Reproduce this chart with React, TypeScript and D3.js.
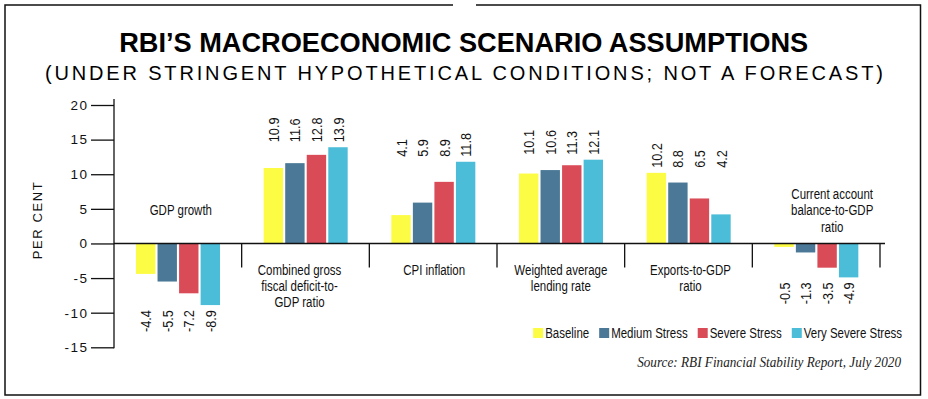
import React, { useRef, useEffect } from 'react';
import * as d3 from 'd3';

// categories (line breaks as in the source graphic)
const categoryLines: string[][] = [
  ['GDP growth'],
  ['Combined gross', 'fiscal deficit-to-', 'GDP ratio'],
  ['CPI inflation'],
  ['Weighted average', 'lending rate'],
  ['Exports-to-GDP', 'ratio'],
  ['Current account', 'balance-to-GDP', 'ratio'],
];
const categories = categoryLines.map((l) => l.join(' '));

const series = ['Baseline', 'Medium Stress', 'Severe Stress', 'Very Severe Stress'];
const seriesColors = ['#fcfc45', '#4a7896', '#d94b57', '#4bbdd8'];

const baseline = [-4.4, 10.9, 4.1, 10.1, 10.2, -0.5];
const mediumStress = [-5.5, 11.6, 5.9, 10.6, 8.8, -1.3];
const severeStress = [-7.2, 12.8, 8.9, 11.3, 6.5, -3.5];
const verySevereStress = [-8.9, 13.9, 11.8, 12.1, 4.2, -4.9];

const yTicks = [20, 15, 10, 5, 0, -5, -10, -15];

const SANS = '"Liberation Sans", Arial, sans-serif';
// no narrow face installed, so squeeze the regular one horizontally
const NARROW = 0.82;

const W = 928;
const H = 399;

const App: React.FC = () => {
  const svgRef = useRef<SVGSVGElement>(null);

  useEffect(() => {
    if (!svgRef.current) return;
    const root = d3.select(svgRef.current);
    root.selectAll('*').remove();

    const values = [baseline, mediumStress, severeStress, verySevereStress];

    const x0 = d3.scaleBand<string>().domain(categories).range([114, 880]).padding(0);
    const x1 = d3.scaleBand<string>().domain(series).range([22, 106]).paddingInner(0.1);
    const y = d3.scaleLinear().domain([-15, 20]).range([347.3, 105]);
    const y0 = y(0);

    // frame with gap in the top edge
    root
      .append('path')
      .attr('d', 'M453,5H5V395H920.5V5H476')
      .attr('fill', 'none')
      .attr('stroke', '#111')
      .attr('stroke-width', 1.5);

    // title
    root
      .append('text')
      .attr('x', 463.7)
      .attr('y', 51.5)
      .attr('text-anchor', 'middle')
      .attr('textLength', 689)
      .attr('lengthAdjust', 'spacingAndGlyphs')
      .style('font-family', SANS)
      .style('font-weight', 'bold')
      .style('font-size', '27px')
      .style('fill', '#000')
      .text('RBI\u2019S MACROECONOMIC SCENARIO ASSUMPTIONS');

    root
      .append('text')
      .attr('x', 463.9)
      .attr('y', 80)
      .attr('text-anchor', 'middle')
      .attr('textLength', 838)
      .attr('lengthAdjust', 'spacing')
      .style('font-family', SANS)
      .style('font-size', '20px')
      .style('fill', '#000')
      .text('(UNDER STRINGENT HYPOTHETICAL CONDITIONS; NOT A FORECAST)');

    // y axis
    const yAxis = root
      .append('g')
      .attr('transform', 'translate(114,0)')
      .call(d3.axisLeft(y).tickValues(yTicks).tickSize(23).tickPadding(2.5).tickFormat((d) => String(d)));
    yAxis.select('.domain').remove();
    yAxis.selectAll('.tick line').attr('stroke', '#111').attr('stroke-width', 1.3);
    yAxis
      .selectAll('.tick text')
      .style('font-family', SANS)
      .style('font-size', '13.5px')
      .style('letter-spacing', '1.5px')
      .style('fill', '#111');

    root
      .append('line')
      .attr('x1', 114)
      .attr('x2', 114)
      .attr('y1', y(20) - 6)
      .attr('y2', y(-15) + 1)
      .attr('stroke', '#111')
      .attr('stroke-width', 1.3);

    root
      .append('text')
      .attr('transform', 'translate(42,220) rotate(-90)')
      .attr('text-anchor', 'middle')
      .style('font-family', SANS)
      .style('font-size', '13px')
      .style('letter-spacing', '1.6px')
      .style('fill', '#111')
      .text('PER CENT');

    // bars
    const groups = root
      .append('g')
      .selectAll('g')
      .data(categories)
      .enter()
      .append('g')
      .attr('transform', (d) => `translate(${x0(d)},0)`);

    groups
      .selectAll('rect')
      .data((_, i) => series.map((s, j) => ({ s, j, v: values[j][i] })))
      .enter()
      .append('rect')
      .attr('x', (d) => x1(d.s) || 0)
      .attr('width', x1.bandwidth())
      .attr('y', (d) => Math.min(y(d.v), y0))
      .attr('height', (d) => Math.abs(y(d.v) - y0))
      .attr('fill', (d) => seriesColors[d.j]);

    // value labels, stacked at the group's extreme bar
    groups.each(function (_, i) {
      const g = d3.select(this);
      const vals = values.map((arr) => arr[i]);
      const negative = d3.max(vals)! <= 0;
      const edge = negative ? y(d3.min(vals)!) + 5 : y(d3.max(vals)!) - 5;
      series.forEach((s, j) => {
        g.append('text')
          .attr(
            'transform',
            `translate(${(x1(s) || 0) + x1.bandwidth() / 2},${edge}) rotate(-90) scale(${NARROW},1)`
          )
          .attr('text-anchor', negative ? 'end' : 'start')
          .attr('dy', '0.36em')
          .style('font-family', SANS)
          .style('font-size', '15.5px')
          .style('fill', '#111')
          .text(d3.format('.1f')(vals[j]).replace('\u2212', '-'));
      });
    });

    // zero line and group separators
    root
      .append('line')
      .attr('x1', 114)
      .attr('x2', 885)
      .attr('y1', y0)
      .attr('y2', y0)
      .attr('stroke', '#111')
      .attr('stroke-width', 1.5);

    root
      .append('g')
      .selectAll('line')
      .data(categories)
      .enter()
      .append('line')
      .attr('x1', (d) => (x0(d) || 0) + x0.bandwidth())
      .attr('x2', (d) => (x0(d) || 0) + x0.bandwidth())
      .attr('y1', y0)
      .attr('y2', y0 + 24)
      .attr('stroke', '#111')
      .attr('stroke-width', 1.3);

    // category labels
    const labelDx = [3, -6, 1, 0, 2, 16];
    groups.each(function (_, i) {
      const g = d3.select(this);
      const vals = values.map((arr) => arr[i]);
      const negative = d3.max(vals)! <= 0;
      const lines = categoryLines[i];
      const cx = x0.bandwidth() / 2 + labelDx[i];
      lines.forEach((line, k) => {
        const cy = negative ? y0 - 33 + (k - (lines.length - 1) / 2) * 16.5 : y0 + 27 + k * 16;
        g.append('text')
          .attr('transform', `translate(${cx},${cy}) scale(${NARROW},1)`)
          .attr('dy', '0.36em')
          .attr('text-anchor', 'middle')
          .style('font-family', SANS)
          .style('font-size', '14px')
          .style('fill', '#111')
          .text(line);
      });
    });

    // legend, right aligned
    const legend = root.append('g').attr('transform', 'translate(0,333)');
    const items = legend.selectAll('g').data(series).enter().append('g');
    items
      .append('rect')
      .attr('y', -5)
      .attr('width', 10)
      .attr('height', 10)
      .attr('fill', (_, j) => seriesColors[j]);
    items
      .append('text')
      .attr('transform', `translate(12,0) scale(${NARROW},1)`)
      .attr('dy', '0.36em')
      .style('font-family', SANS)
      .style('font-size', '14px')
      .style('fill', '#111')
      .text((d) => d);
    const widths: number[] = [];
    items.each(function () {
      const t = d3.select(this).select('text').node() as SVGTextElement;
      widths.push(12 + t.getComputedTextLength() * NARROW);
    });
    const gap = 10;
    const total = d3.sum(widths) + gap * (widths.length - 1);
    let cursor = 902 - total;
    items.attr('transform', (_, j) => {
      const tx = cursor;
      cursor += widths[j] + gap;
      return `translate(${tx},0)`;
    });

    // source, squeezed horizontally to the original's width
    const source = root
      .append('text')
      .attr('text-anchor', 'end')
      .style('font-family', '"Liberation Serif", "Times New Roman", serif')
      .style('font-style', 'italic')
      .style('font-size', '15px')
      .style('fill', '#222')
      .text('Source: RBI Financial Stability Report, July 2020');
    const srcLen = (source.node() as SVGTextElement).getComputedTextLength();
    const sx = srcLen > 0 ? Math.min(1, 264 / srcLen) : 1;
    source.attr('transform', `translate(901,367) scale(${sx},1)`);
  }, []);

  return (
    <div style={{ position: 'absolute', left: 0, top: 0, width: W, height: H, background: '#fff' }}>
      <svg ref={svgRef} width={W} height={H} style={{ display: 'block' }} />
    </div>
  );
};

export default App;
